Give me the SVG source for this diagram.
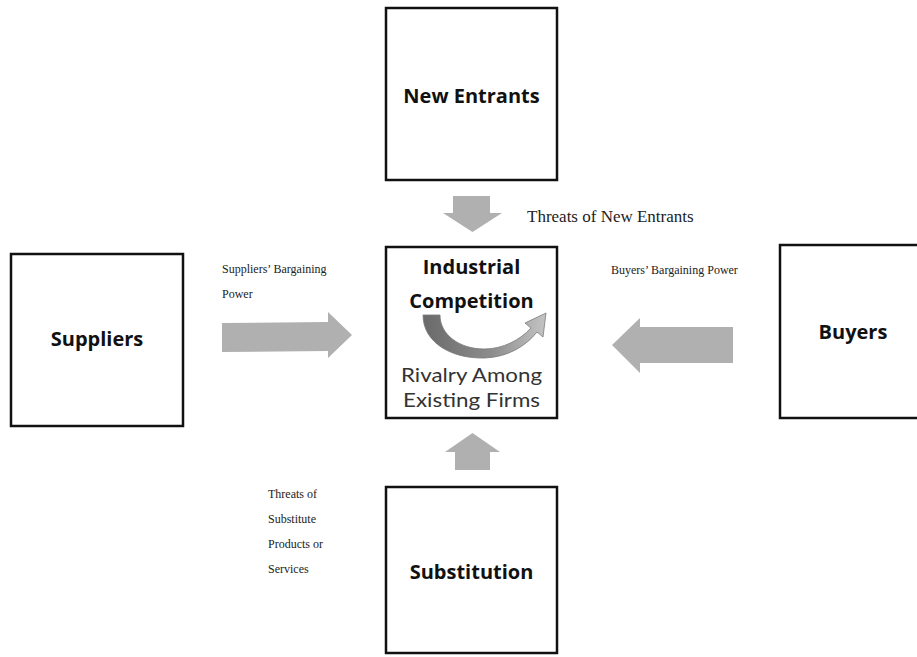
<svg xmlns="http://www.w3.org/2000/svg" width="917" height="657" viewBox="0 0 917 657">
  <defs>
    <style>
      .box { fill: #ffffff; stroke: #111111; stroke-width: 2.5; }
      .title { font-family: "Open Sans", "Liberation Sans", sans-serif; font-weight: 700; font-size: 20px; fill: #111111; text-anchor: middle; }
      .sub { font-family: Lato, "Open Sans", sans-serif; font-size: 20px; fill: #333333; text-anchor: middle; }
      .note { font-family: "Liberation Serif", "Times New Roman", serif; font-size: 12px; fill: #222222; }
      .force { fill: #b0b0b0; }
    </style>
    <linearGradient id="rivalryGrad" x1="0" y1="0" x2="1" y2="0">
      <stop offset="0" stop-color="#6a6a6a"/>
      <stop offset="0.55" stop-color="#8c8c8c"/>
      <stop offset="1" stop-color="#c4c4c4"/>
    </linearGradient>
  </defs>

  <rect width="917" height="657" fill="#ffffff"/>

  <!-- force arrows -->
  <g id="connectors">
    <!-- new entrants -> competition -->
    <polygon class="force" points="453,196 490,196 490,213 502,213 472.5,232 443,213 453,213"/>
    <!-- substitution -> competition -->
    <polygon class="force" points="455,470 490,470 490,452 500,452 472.5,433 445,452 455,452"/>
    <!-- suppliers -> competition -->
    <polygon class="force" points="222,323 328,322 328,312 352,335 328,358 328,351 222,352"/>
    <!-- buyers -> competition -->
    <polygon class="force" points="733,327 640,327 640,318 612,345 640,373 640,363 733,363"/>
  </g>

  <g id="new-entrants">
    <rect class="box" x="386" y="8" width="171" height="172"/>
    <text class="title" x="471.5" y="103">New Entrants</text>
  </g>

  <g id="industrial-competition">
    <rect class="box" x="386" y="247" width="171" height="171"/>
    <text class="title" x="471.5" y="274">Industrial</text>
    <text class="title" x="471.5" y="308">Competition</text>
    <path d="M423,315 C423,343 452,359 485,358 C508,357 526,346 537,332 L543,337 L546,313 L525,323 L531,328 C520,340 503,349 484,349 C460,349 440,335 440,315 Z"
          fill="url(#rivalryGrad)" stroke="#7a7a7a" stroke-width="0.8"/>
    <text class="sub" x="471.5" y="382" textLength="141" lengthAdjust="spacingAndGlyphs">Rivalry Among</text>
    <text class="sub" x="471.5" y="407" textLength="137" lengthAdjust="spacingAndGlyphs">Existing Firms</text>
  </g>

  <g id="suppliers">
    <rect class="box" x="11" y="254" width="172" height="172"/>
    <text class="title" x="97" y="346">Suppliers</text>
  </g>

  <g id="buyers">
    <rect class="box" x="780" y="245" width="172" height="173"/>
    <text class="title" x="853" y="339">Buyers</text>
  </g>

  <g id="substitution">
    <rect class="box" x="386" y="487" width="171" height="166"/>
    <text class="title" x="471.5" y="579">Substitution</text>
  </g>

  <g id="labels">
    <text class="note" x="527" y="222" style="font-size:17px">Threats of New Entrants</text>
    <text class="note" x="222" y="273">Suppliers’ Bargaining</text>
    <text class="note" x="222" y="298">Power</text>
    <text class="note" x="611" y="274">Buyers’ Bargaining Power</text>
    <text class="note" x="268" y="498">Threats of</text>
    <text class="note" x="268" y="523">Substitute</text>
    <text class="note" x="268" y="548">Products or</text>
    <text class="note" x="268" y="573">Services</text>
  </g>
</svg>
